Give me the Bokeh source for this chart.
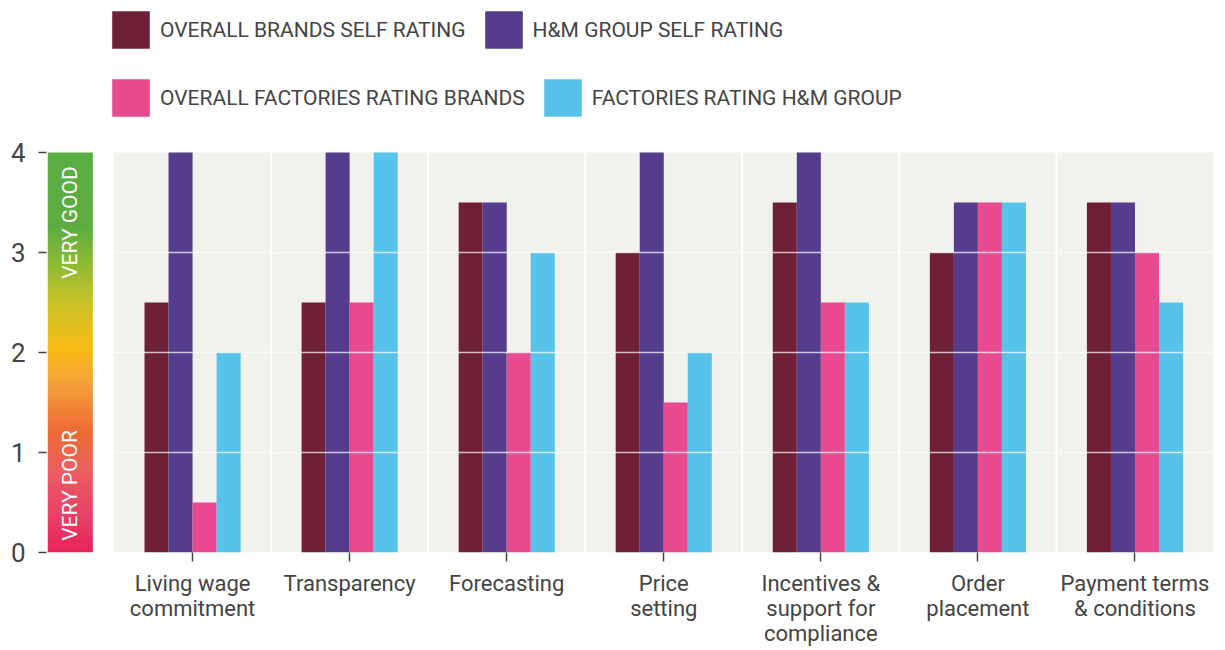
import numpy as np
from bokeh.plotting import figure
from bokeh.models import ColumnDataSource, FixedTicker, Legend, LegendItem
from bokeh.transform import dodge
from bokeh.core.properties import value
from bokeh.embed import file_html
from bokeh.resources import INLINE

# ---------------- data ----------------
categories = ["Living wage\ncommitment", "Transparency", "Forecasting", "Price\nsetting",
              "Incentives &\nsupport for\ncompliance", "Order\nplacement",
              "Payment terms\n& conditions"]
brands_self = [2.5, 2.5, 3.5, 3.0, 3.5, 3.0, 3.5]
hm_self = [4.0, 4.0, 3.5, 4.0, 4.0, 3.5, 3.5]
factories_brands = [0.5, 2.5, 2.0, 1.5, 2.5, 3.5, 3.0]
factories_hm = [2.0, 4.0, 3.0, 2.0, 2.5, 3.5, 2.5]
series_names = ["OVERALL BRANDS SELF RATING", "H&M GROUP SELF RATING",
                "OVERALL FACTORIES RATING BRANDS", "FACTORIES RATING H&M GROUP"]
y_ticks = [0, 1, 2, 3, 4]
scale_labels = ["VERY POOR", "VERY GOOD"]

# ---------------- style ----------------
FONT = "Roboto"
TXT = "#444444"
colors = ["#6d2036", "#553c8d", "#e84a90", "#57c3ea"]
BG = "#f1f1ee"
BAR_W = 0.153

idx = list(range(len(categories)))
src = ColumnDataSource(dict(idx=idx, s0=brands_self, s1=hm_self,
                            s2=factories_brands, s3=factories_hm))

ytop = max(y_ticks)
p = figure(frame_width=1167, frame_height=552,
           x_range=(-0.93, len(categories) - 0.5), y_range=(0, 5.52),
           min_border_left=46, min_border_right=12, min_border_top=0, min_border_bottom=0,
           output_backend="svg", toolbar_location=None)
p.outline_line_color = None
p.xgrid.grid_line_color = None
p.ygrid.grid_line_color = None
p.background_fill_color = "white"
p.border_fill_color = "white"

# background band
p.quad(left=[-0.5], right=[len(categories) - 0.5], bottom=[min(y_ticks)], top=[ytop],
       fill_color=BG, line_color=None)
# faint separators
p.segment(x0=[i + 0.5 for i in idx[:-1]], x1=[i + 0.5 for i in idx[:-1]],
          y0=[min(y_ticks)] * (len(idx) - 1), y1=[ytop] * (len(idx) - 1),
          line_color="white", line_alpha=0.8, line_width=2)

# bars
offsets = [-1.5 * BAR_W, -0.5 * BAR_W, 0.5 * BAR_W, 1.5 * BAR_W]
rs = []
for k in range(4):
    r = p.vbar(x=dodge("idx", offsets[k]), top=f"s{k}", width=BAR_W, bottom=0,
               source=src, fill_color=colors[k], line_color=None)
    rs.append(r)

# grid lines on top of bars
gl = y_ticks[1:-1]
p.segment(x0=[-0.5] * len(gl), x1=[len(categories) - 0.5] * len(gl), y0=gl, y1=gl,
          line_color="white", line_alpha=0.7, line_width=1.5)

# gradient scale bar
stops_v = [0.0, 0.35, 0.85, 1.2, 1.7, 2.05, 2.5, 2.9, 3.25, 4.0]
stops_c = ["#e8245a", "#e93f69", "#ec6160", "#ee6b35", "#f6a33a", "#f8bd16",
           "#cbc228", "#8cba36", "#5fae43", "#5aad45"]
n = 400
vals = np.linspace(0, ytop, n)
rgb = np.array([[int(c[i:i + 2], 16) for i in (1, 3, 5)] for c in stops_c], dtype=float)
img = np.zeros((n, 1), dtype=np.uint32)
view = img.view(dtype=np.uint8).reshape((n, 1, 4))
for ch in range(3):
    view[:, 0, ch] = np.interp(vals, stops_v, rgb[:, ch]).astype(np.uint8)
view[:, 0, 3] = 255
p.image_rgba(image=[img], x=-0.922, y=0, dw=0.287, dh=ytop)

p.text(x=[-0.779, -0.779], y=[0.67, 3.3], text=scale_labels, angle=np.pi / 2,
       text_align="center", text_baseline="middle", text_color="white",
       text_font=value(FONT), text_font_size="21px")

# axes
p.yaxis.ticker = FixedTicker(ticks=y_ticks)
p.yaxis.axis_line_color = None
p.yaxis.major_tick_line_color = TXT
p.yaxis.major_tick_line_width = 1.5
p.yaxis.major_tick_out = 8
p.yaxis.major_tick_in = 0
p.yaxis.minor_tick_line_color = None
p.yaxis.major_label_text_font = FONT
p.yaxis.major_label_text_font_size = "26px"
p.yaxis.major_label_text_color = TXT
p.yaxis.major_label_standoff = 13

p.xaxis.ticker = FixedTicker(ticks=idx)
p.xaxis.major_label_overrides = {i: c for i, c in zip(idx, categories)}
p.xaxis.axis_line_color = None
p.xaxis.major_tick_line_color = TXT
p.xaxis.major_tick_line_width = 1.5
p.xaxis.major_tick_out = 9
p.xaxis.major_tick_in = 0
p.xaxis.minor_tick_line_color = None
p.xaxis.major_label_text_font = FONT
p.xaxis.major_label_text_font_size = "22px"
p.xaxis.major_label_text_color = TXT
p.xaxis.major_label_text_line_height = 1.0
p.xaxis.major_label_standoff = 9

# legends (two rows)
def make_legend(items, loc):
    lg = Legend(items=items, orientation="horizontal", location=loc,
                glyph_width=47, glyph_height=47, label_standoff=6, spacing=14,
                padding=0, margin=0, border_line_color=None, background_fill_alpha=0,
                label_text_font=FONT, label_text_font_size="21px", label_text_color=TXT)
    return lg

lg1 = make_legend([LegendItem(label=series_names[0], renderers=[rs[0]]),
                   LegendItem(label=series_names[1], renderers=[rs[1]])], (61, 499))
lg2 = make_legend([LegendItem(label=series_names[2], renderers=[rs[2]]),
                   LegendItem(label=series_names[3], renderers=[rs[3]])], (61, 431))
p.add_layout(lg1)
p.add_layout(lg2)

open("out.html", "w").write(file_html(p, INLINE))
